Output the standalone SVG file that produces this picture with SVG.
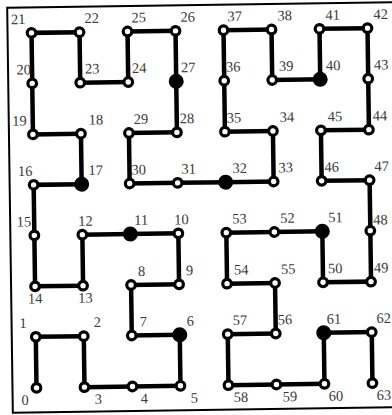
<svg xmlns="http://www.w3.org/2000/svg" width="392" height="415" viewBox="0 0 392 415">
<style>
.e{stroke:#000;stroke-width:4.5;stroke-linecap:square}
.o{fill:#fff;stroke:#000;stroke-width:3.2}
.f{fill:#000}
text{font-family:"Liberation Serif","Times New Roman",serif;font-size:14.5px;fill:#3a3a3a}
.r{text-anchor:end}
.m{text-anchor:middle}
</style>
<rect width="392" height="415" fill="#fff"/>
<g transform="rotate(-0.8 202 208)">
<rect x="10" y="5" width="392" height="405" fill="none" stroke="#000" stroke-width="2"/>
<g id="connectors">
<line class="e" x1="34" y1="385.5" x2="34" y2="334.5"/>
<line class="e" x1="34" y1="334.5" x2="82" y2="334.5"/>
<line class="e" x1="82" y1="334.5" x2="82" y2="385.5"/>
<line class="e" x1="82" y1="385.5" x2="130" y2="385.5"/>
<line class="e" x1="130" y1="385.5" x2="178" y2="385.5"/>
<line class="e" x1="178" y1="385.5" x2="178" y2="334.5"/>
<line class="e" x1="178" y1="334.5" x2="130" y2="334.5"/>
<line class="e" x1="130" y1="334.5" x2="130" y2="284"/>
<line class="e" x1="130" y1="284" x2="178" y2="284"/>
<line class="e" x1="178" y1="284" x2="178" y2="233"/>
<line class="e" x1="178" y1="233" x2="130" y2="233"/>
<line class="e" x1="130" y1="233" x2="82" y2="233"/>
<line class="e" x1="82" y1="233" x2="82" y2="284"/>
<line class="e" x1="82" y1="284" x2="34" y2="284"/>
<line class="e" x1="34" y1="284" x2="34" y2="233"/>
<line class="e" x1="34" y1="233" x2="34" y2="182.5"/>
<line class="e" x1="34" y1="182.5" x2="82" y2="182.5"/>
<line class="e" x1="82" y1="182.5" x2="82" y2="132"/>
<line class="e" x1="82" y1="132" x2="34" y2="132"/>
<line class="e" x1="34" y1="132" x2="34" y2="81"/>
<line class="e" x1="34" y1="81" x2="34" y2="30.5"/>
<line class="e" x1="34" y1="30.5" x2="82" y2="30.5"/>
<line class="e" x1="82" y1="30.5" x2="82" y2="81"/>
<line class="e" x1="82" y1="81" x2="130" y2="81"/>
<line class="e" x1="130" y1="81" x2="130" y2="30.5"/>
<line class="e" x1="130" y1="30.5" x2="178" y2="30.5"/>
<line class="e" x1="178" y1="30.5" x2="178" y2="81"/>
<line class="e" x1="178" y1="81" x2="178" y2="132"/>
<line class="e" x1="178" y1="132" x2="130" y2="132"/>
<line class="e" x1="130" y1="132" x2="130" y2="182.5"/>
<line class="e" x1="130" y1="182.5" x2="178" y2="182.5"/>
<line class="e" x1="178" y1="182.5" x2="226" y2="182.5"/>
<line class="e" x1="226" y1="182.5" x2="274" y2="182.5"/>
<line class="e" x1="274" y1="182.5" x2="274" y2="132"/>
<line class="e" x1="274" y1="132" x2="226" y2="132"/>
<line class="e" x1="226" y1="132" x2="226" y2="81"/>
<line class="e" x1="226" y1="81" x2="226" y2="30.5"/>
<line class="e" x1="226" y1="30.5" x2="274" y2="30.5"/>
<line class="e" x1="274" y1="30.5" x2="274" y2="81"/>
<line class="e" x1="274" y1="81" x2="322" y2="81"/>
<line class="e" x1="322" y1="81" x2="322" y2="30.5"/>
<line class="e" x1="322" y1="30.5" x2="370" y2="30.5"/>
<line class="e" x1="370" y1="30.5" x2="370" y2="81"/>
<line class="e" x1="370" y1="81" x2="370" y2="132"/>
<line class="e" x1="370" y1="132" x2="322" y2="132"/>
<line class="e" x1="322" y1="132" x2="322" y2="182.5"/>
<line class="e" x1="322" y1="182.5" x2="370" y2="182.5"/>
<line class="e" x1="370" y1="182.5" x2="370" y2="233"/>
<line class="e" x1="370" y1="233" x2="370" y2="284"/>
<line class="e" x1="370" y1="284" x2="322" y2="284"/>
<line class="e" x1="322" y1="284" x2="322" y2="233"/>
<line class="e" x1="322" y1="233" x2="274" y2="233"/>
<line class="e" x1="274" y1="233" x2="226" y2="233"/>
<line class="e" x1="226" y1="233" x2="226" y2="284"/>
<line class="e" x1="226" y1="284" x2="274" y2="284"/>
<line class="e" x1="274" y1="284" x2="274" y2="334.5"/>
<line class="e" x1="274" y1="334.5" x2="226" y2="334.5"/>
<line class="e" x1="226" y1="334.5" x2="226" y2="385.5"/>
<line class="e" x1="226" y1="385.5" x2="274" y2="385.5"/>
<line class="e" x1="274" y1="385.5" x2="322" y2="385.5"/>
<line class="e" x1="322" y1="385.5" x2="322" y2="334.5"/>
<line class="e" x1="322" y1="334.5" x2="370" y2="334.5"/>
<line class="e" x1="370" y1="334.5" x2="370" y2="385.5"/>
</g>
<g id="n0"><circle class="o" cx="34" cy="385.5" r="4.3"/><text class="r" x="26" y="402.5">0</text></g>
<g id="n1"><circle class="o" cx="34" cy="334.5" r="4.3"/><text class="r" x="25" y="325.5">1</text></g>
<g id="n2"><circle class="o" cx="82" cy="334.5" r="4.3"/><text x="92" y="325.5">2</text></g>
<g id="n3"><circle class="o" cx="82" cy="385.5" r="4.3"/><text x="92" y="402.5">3</text></g>
<g id="n4"><circle class="o" cx="130" cy="385.5" r="4.3"/><text x="138" y="402.5">4</text></g>
<g id="n5"><circle class="o" cx="178" cy="385.5" r="4.3"/><text x="188" y="402.5">5</text></g>
<g id="n6"><circle class="f" cx="178" cy="334.5" r="7.5"/><text x="185" y="325.5">6</text></g>
<g id="n7"><circle class="o" cx="130" cy="334.5" r="4.3"/><text x="138" y="325.5">7</text></g>
<g id="n8"><circle class="o" cx="130" cy="284" r="4.3"/><text x="137" y="275">8</text></g>
<g id="n9"><circle class="o" cx="178" cy="284" r="4.3"/><text x="185" y="275">9</text></g>
<g id="n10"><circle class="o" cx="178" cy="233" r="4.3"/><text x="174" y="224">10</text></g>
<g id="n11"><circle class="f" cx="130" cy="233" r="7.5"/><text x="134" y="224">11</text></g>
<g id="n12"><circle class="o" cx="82" cy="233" r="4.3"/><text x="78" y="224">12</text></g>
<g id="n13"><circle class="o" cx="82" cy="284" r="4.3"/><text x="77" y="301">13</text></g>
<g id="n14"><circle class="o" cx="34" cy="284" r="4.3"/><text class="m" x="34" y="301">14</text></g>
<g id="n15"><circle class="o" cx="34" cy="233" r="4.3"/><text class="r" x="31" y="224">15</text></g>
<g id="n16"><circle class="o" cx="34" cy="182.5" r="4.3"/><text class="r" x="33" y="173.5">16</text></g>
<g id="n17"><circle class="f" cx="82" cy="182.5" r="7.5"/><text x="89" y="173.5">17</text></g>
<g id="n18"><circle class="o" cx="82" cy="132" r="4.3"/><text x="90" y="123">18</text></g>
<g id="n19"><circle class="o" cx="34" cy="132" r="4.3"/><text class="r" x="28" y="123">19</text></g>
<g id="n20"><circle class="o" cx="34" cy="81" r="4.3"/><text class="r" x="33" y="72">20</text></g>
<g id="n21"><circle class="o" cx="34" cy="30.5" r="4.3"/><text class="r" x="28" y="21.5">21</text></g>
<g id="n22"><circle class="o" cx="82" cy="30.5" r="4.3"/><text x="87" y="21.5">22</text></g>
<g id="n23"><circle class="o" cx="82" cy="81" r="4.3"/><text x="87" y="72">23</text></g>
<g id="n24"><circle class="o" cx="130" cy="81" r="4.3"/><text x="134" y="72">24</text></g>
<g id="n25"><circle class="o" cx="130" cy="30.5" r="4.3"/><text x="134" y="21.5">25</text></g>
<g id="n26"><circle class="o" cx="178" cy="30.5" r="4.3"/><text x="183" y="21.5">26</text></g>
<g id="n27"><circle class="f" cx="178" cy="81" r="7.5"/><text x="183" y="72">27</text></g>
<g id="n28"><circle class="o" cx="178" cy="132" r="4.3"/><text x="181" y="123">28</text></g>
<g id="n29"><circle class="o" cx="130" cy="132" r="4.3"/><text x="135" y="123">29</text></g>
<g id="n30"><circle class="o" cx="130" cy="182.5" r="4.3"/><text x="132" y="173.5">30</text></g>
<g id="n31"><circle class="o" cx="178" cy="182.5" r="4.3"/><text x="182" y="173.5">31</text></g>
<g id="n32"><circle class="f" cx="226" cy="182.5" r="7.5"/><text x="233" y="173.5">32</text></g>
<g id="n33"><circle class="o" cx="274" cy="182.5" r="4.3"/><text x="279" y="173.5">33</text></g>
<g id="n34"><circle class="o" cx="274" cy="132" r="4.3"/><text x="281" y="123">34</text></g>
<g id="n35"><circle class="o" cx="226" cy="132" r="4.3"/><text x="228" y="123">35</text></g>
<g id="n36"><circle class="o" cx="226" cy="81" r="4.3"/><text x="228" y="72">36</text></g>
<g id="n37"><circle class="o" cx="226" cy="30.5" r="4.3"/><text x="230" y="21.5">37</text></g>
<g id="n38"><circle class="o" cx="274" cy="30.5" r="4.3"/><text x="280" y="21.5">38</text></g>
<g id="n39"><circle class="o" cx="274" cy="81" r="4.3"/><text x="281" y="72">39</text></g>
<g id="n40"><circle class="f" cx="322" cy="81" r="7.5"/><text x="328" y="72">40</text></g>
<g id="n41"><circle class="o" cx="322" cy="30.5" r="4.3"/><text x="328" y="21.5">41</text></g>
<g id="n42"><circle class="o" cx="370" cy="30.5" r="4.3"/><text x="376" y="21.5">42</text></g>
<g id="n43"><circle class="o" cx="370" cy="81" r="4.3"/><text x="376" y="72">43</text></g>
<g id="n44"><circle class="o" cx="370" cy="132" r="4.3"/><text x="374" y="123">44</text></g>
<g id="n45"><circle class="o" cx="322" cy="132" r="4.3"/><text x="329" y="123">45</text></g>
<g id="n46"><circle class="o" cx="322" cy="182.5" r="4.3"/><text x="325" y="173.5">46</text></g>
<g id="n47"><circle class="o" cx="370" cy="182.5" r="4.3"/><text x="375" y="173.5">47</text></g>
<g id="n48"><circle class="o" cx="370" cy="233" r="4.3"/><text x="373" y="227">48</text></g>
<g id="n49"><circle class="o" cx="370" cy="284" r="4.3"/><text x="373" y="275">49</text></g>
<g id="n50"><circle class="o" cx="322" cy="284" r="4.3"/><text x="327" y="275">50</text></g>
<g id="n51"><circle class="f" cx="322" cy="233" r="7.5"/><text x="328" y="224">51</text></g>
<g id="n52"><circle class="o" cx="274" cy="233" r="4.3"/><text x="280" y="224">52</text></g>
<g id="n53"><circle class="o" cx="226" cy="233" r="4.3"/><text x="232" y="224">53</text></g>
<g id="n54"><circle class="o" cx="226" cy="284" r="4.3"/><text x="233" y="275">54</text></g>
<g id="n55"><circle class="o" cx="274" cy="284" r="4.3"/><text x="280" y="275">55</text></g>
<g id="n56"><circle class="o" cx="274" cy="334.5" r="4.3"/><text x="276" y="325.5">56</text></g>
<g id="n57"><circle class="o" cx="226" cy="334.5" r="4.3"/><text x="231" y="325.5">57</text></g>
<g id="n58"><circle class="o" cx="226" cy="385.5" r="4.3"/><text x="231" y="402.5">58</text></g>
<g id="n59"><circle class="o" cx="274" cy="385.5" r="4.3"/><text x="280" y="402.5">59</text></g>
<g id="n60"><circle class="o" cx="322" cy="385.5" r="4.3"/><text x="326" y="402.5">60</text></g>
<g id="n61"><circle class="f" cx="322" cy="334.5" r="7.5"/><text x="325" y="325.5">61</text></g>
<g id="n62"><circle class="o" cx="370" cy="334.5" r="4.3"/><text x="375" y="325.5">62</text></g>
<g id="n63"><circle class="o" cx="370" cy="385.5" r="4.3"/><text x="374" y="402.5">63</text></g>
</g>
</svg>
